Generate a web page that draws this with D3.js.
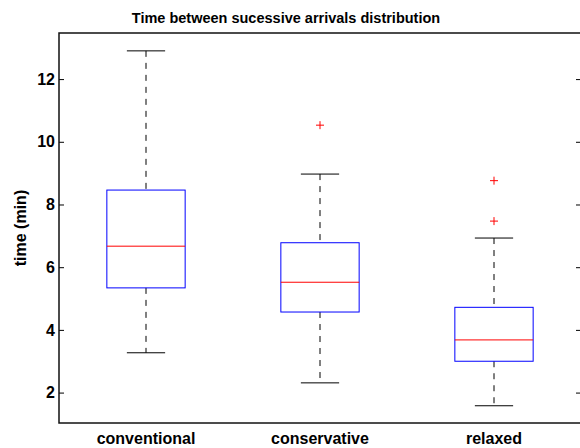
<!DOCTYPE html>
<html>
<head>
<meta charset="utf-8">
<script src="https://cdn.jsdelivr.net/npm/d3@7"></script>
<style>
    body { margin: 0; background: #fff; }
    svg text { font-family: 'Liberation Sans', Arial, sans-serif; font-weight: bold; fill: #000; }
</style>
</head>
<body>
<div id="chart"></div>
<script>
// Box stats (min)
const groups = ['conventional', 'conservative', 'relaxed']
const whiskerLow = [3.27, 2.31, 1.58]
const q1 = [5.34, 4.57, 3.0]
const medians = [6.67, 5.52, 3.68]
const q3 = [8.46, 6.78, 4.72]
const whiskerHigh = [12.9, 8.97, 6.93]
const outliers = [[], [10.53], [7.47, 8.76]]
const yTicks = [2, 4, 6, 8, 10, 12]

const width = 580
const height = 448
const margin = { top: 33, right: -1, bottom: 25, left: 59 }

const svg = d3.select('#chart')
    .append('svg')
    .attr('width', width)
    .attr('height', height)

const plotW = width - margin.left - margin.right
const plotH = height - margin.top - margin.bottom

// MATLAB style: positions 1..3 with half a unit padding
const x = d3.scaleLinear()
    .domain([0.5, 3.5])
    .range([0, plotW])

const y = d3.scaleLinear()
    .domain([1.03, 13.47])
    .range([plotH, 0])

const g = svg.append('g')
    .attr('transform', `translate(${margin.left},${margin.top})`)

const data = groups.map((name, i) => ({
    name,
    pos: i + 1,
    lo: whiskerLow[i],
    q1: q1[i],
    med: medians[i],
    q3: q3[i],
    hi: whiskerHigh[i],
    out: outliers[i]
}))

const boxHalf = 0.225
const capHalf = 0.11

const boxes = g.selectAll('g.box')
    .data(data)
    .enter()
    .append('g')
    .attr('class', 'box')

// dashed whiskers
boxes.append('line')
    .attr('x1', d => x(d.pos)).attr('x2', d => x(d.pos))
    .attr('y1', d => y(d.hi)).attr('y2', d => y(d.q3))
    .attr('stroke', '#000').attr('stroke-dasharray', '6,6')
boxes.append('line')
    .attr('x1', d => x(d.pos)).attr('x2', d => x(d.pos))
    .attr('y1', d => y(d.q1)).attr('y2', d => y(d.lo))
    .attr('stroke', '#000').attr('stroke-dasharray', '6,6')

// caps
boxes.append('line')
    .attr('x1', d => x(d.pos - capHalf)).attr('x2', d => x(d.pos + capHalf))
    .attr('y1', d => y(d.hi)).attr('y2', d => y(d.hi))
    .attr('stroke', '#000')
boxes.append('line')
    .attr('x1', d => x(d.pos - capHalf)).attr('x2', d => x(d.pos + capHalf))
    .attr('y1', d => y(d.lo)).attr('y2', d => y(d.lo))
    .attr('stroke', '#000')

// boxes
boxes.append('rect')
    .attr('x', d => x(d.pos - boxHalf))
    .attr('y', d => y(d.q3))
    .attr('width', d => x(d.pos + boxHalf) - x(d.pos - boxHalf))
    .attr('height', d => y(d.q1) - y(d.q3))
    .attr('fill', 'none')
    .attr('stroke', '#0000ff')

// medians
boxes.append('line')
    .attr('x1', d => x(d.pos - boxHalf)).attr('x2', d => x(d.pos + boxHalf))
    .attr('y1', d => y(d.med)).attr('y2', d => y(d.med))
    .attr('stroke', '#ff0000')

// outliers as red plus marks
boxes.selectAll('path.out')
    .data(d => d.out.map(v => ({ pos: d.pos, v })))
    .enter()
    .append('path')
    .attr('class', 'out')
    .attr('d', d => {
        const cx = x(d.pos), cy = y(d.v)
        return `M${cx - 4},${cy}H${cx + 4}M${cx},${cy - 4}V${cy + 4}`
    })
    .attr('stroke', '#ff0000')

// y axis, ticks inward, mirrored on the right
const yAxis = g.append('g')
    .call(d3.axisLeft(y).tickValues(yTicks).tickSizeInner(-5).tickSizeOuter(0).tickPadding(4))
yAxis.select('.domain').remove()
yAxis.selectAll('text').style('font-size', '16px')

const yAxisR = g.append('g')
    .attr('transform', `translate(${plotW},0)`)
    .call(d3.axisRight(y).tickValues(yTicks).tickSizeInner(-5).tickSizeOuter(0).tickFormat(''))
yAxisR.select('.domain').remove()

// frame
g.append('rect')
    .attr('x', 0).attr('y', 0)
    .attr('width', plotW).attr('height', plotH)
    .attr('fill', 'none')
    .attr('stroke', '#111')
    .attr('stroke-width', 1.5)

// category labels
g.selectAll('text.cat')
    .data(data)
    .enter()
    .append('text')
    .attr('class', 'cat')
    .attr('x', d => x(d.pos))
    .attr('y', plotH + 21)
    .attr('text-anchor', 'middle')
    .style('font-size', '16px')
    .text(d => d.name)

svg.append('text')
    .attr('transform', `translate(26,${margin.top + plotH / 2}) rotate(-90)`)
    .attr('text-anchor', 'middle')
    .style('font-size', '16px')
    .text('time (min)')

svg.append('text')
    .attr('x', 286)
    .attr('y', 23)
    .attr('text-anchor', 'middle')
    .style('font-size', '14.5px')
    .text('Time between sucessive arrivals distribution')
</script>
</body>
</html>
